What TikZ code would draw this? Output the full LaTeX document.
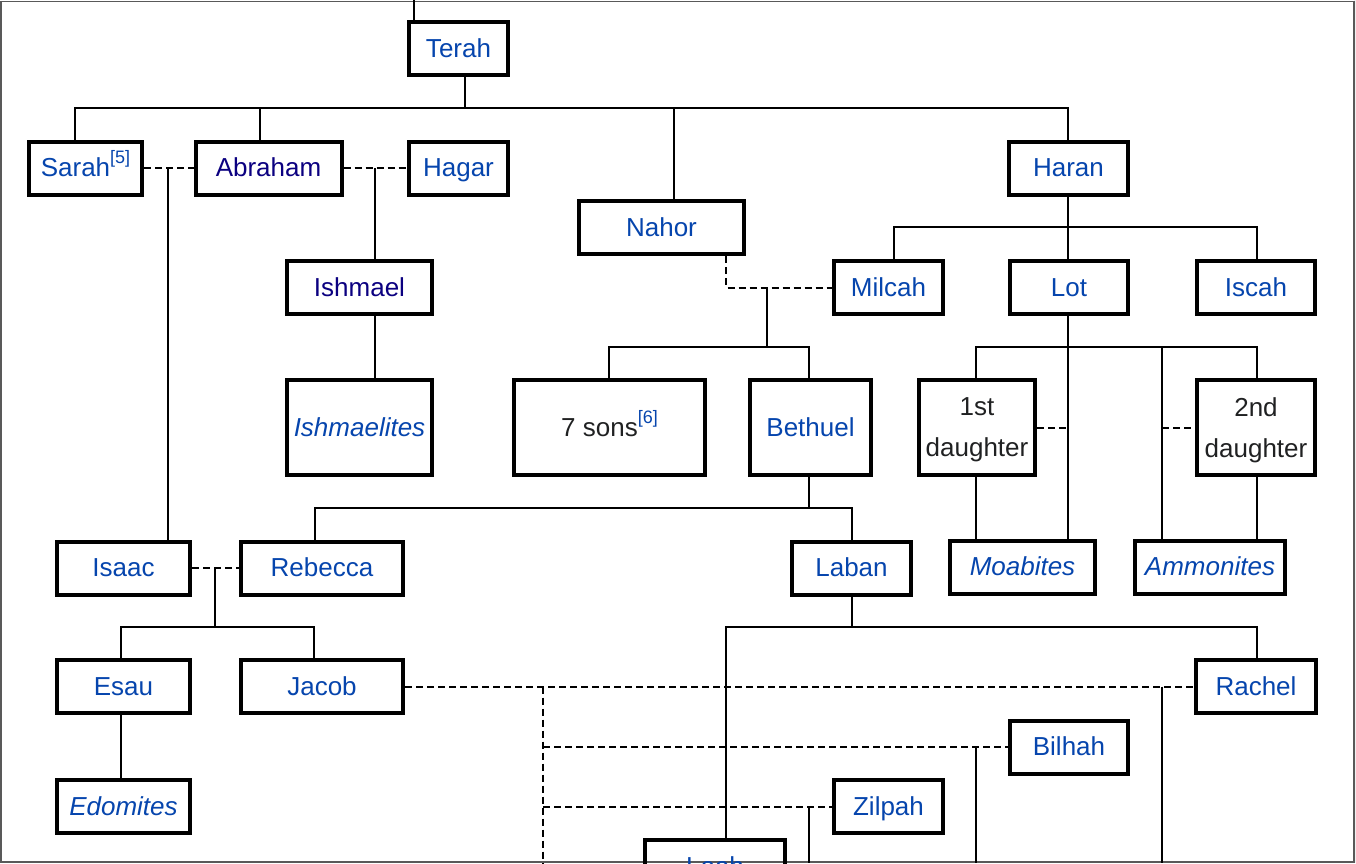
\documentclass[tikz,border=0pt]{standalone}
\usepackage{fontspec}
\setmainfont{Liberation Sans}
\usetikzlibrary{positioning}
\definecolor{wlink}{HTML}{0645AD}
\definecolor{wvisited}{HTML}{0B0080}
\definecolor{wtext}{HTML}{202122}
\newcommand{\refnote}[1]{\raisebox{13pt}{\fontsize{18}{18}\selectfont\color{wlink}[#1]}}
\tikzset{
  person/.style={draw, line width=4pt, inner sep=0pt, minimum height=53pt, text=wlink,
                 font=\fontsize{26}{41}\selectfont, align=center,
                 text height=19pt, text depth=2pt},
  tribe/.style={person, font=\fontsize{26}{41}\selectfont\itshape},
  visited/.style={text=wvisited},
  nolink/.style={text=wtext},
  tall/.style={minimum height=95pt},
  twoline/.style={text height={}, text depth=0pt},
  kin/.style={line width=2pt},
  wed/.style={line width=2pt, dash pattern=on 7pt off 4pt},
}
\begin{document}
\begin{tikzpicture}[x=1pt, y=-1pt]
\useasboundingbox (0,0) rectangle (1356,863);
\clip (0,0) rectangle (1356,863);
\fill[gray!12] (1354,0) rectangle (1356,863);
\draw[gray!70!black, line width=1.2pt] (1,1.5) rectangle (1354,862);

%Nodes
\node[person, minimum width=99pt] (terah) at (458.5,48.5) {Terah};
\node[person, minimum width=113pt] (sarah) at (85.5,168) {Sarah\refnote{5}};
\node[person, visited, minimum width=146pt] (abraham) at (268.5,168) {Abraham};
\node[person, minimum width=99pt] (hagar) at (458.5,168) {Hagar};
\node[person, minimum width=165pt] (nahor) at (661.5,227.5) {Nahor};
\node[person, minimum width=119pt] (haran) at (1068.5,168) {Haran};
\node[person, visited, minimum width=145pt] (ishmael) at (359.5,287.5) {Ishmael};
\node[person, minimum width=109pt] (milcah) at (888.5,287.5) {Milcah};
\node[person, minimum width=118pt] (lot) at (1069,287.5) {Lot};
\node[person, minimum width=118pt] (iscah) at (1256,287.5) {Iscah};
\node[tribe, tall, minimum width=145pt] (ishmaelites) at (359.5,427.5) {Ishmaelites};
\node[person, nolink, tall, minimum width=191pt] (sons) at (609.5,427.5) {7 sons\refnote{6}};
\node[person, tall, minimum width=121pt] (bethuel) at (810.5,427.5) {Bethuel};
\node[person, nolink, tall, twoline, minimum width=116pt] (daughter1) at (977,427.5) {1st\\daughter};
\node[person, nolink, tall, twoline, minimum width=118pt] (daughter2) at (1256,427.5) {2nd\\daughter};
\node[person, minimum width=133pt] (isaac) at (123.5,568) {Isaac};
\node[person, minimum width=162pt] (rebecca) at (322,568) {Rebecca};
\node[person, minimum width=119pt] (laban) at (851.5,568) {Laban};
\node[tribe, minimum width=145pt] (moabites) at (1022.5,567) {Moabites};
\node[tribe, minimum width=150pt] (ammonites) at (1210,567) {Ammonites};
\node[person, minimum width=133pt] (esau) at (123.5,686.5) {Esau};
\node[person, minimum width=162pt] (jacob) at (322,686.5) {Jacob};
\node[person, minimum width=120pt] (rachel) at (1256,686.5) {Rachel};
\node[person, minimum width=118pt] (bilhah) at (1069,747) {Bilhah};
\node[person, minimum width=109pt] (zilpah) at (888.5,806.5) {Zilpah};
\node[tribe, minimum width=133pt] (edomites) at (123.5,806.5) {Edomites};
\node[person, minimum width=140pt] (leah) at (715,866.5) {Leah};

%Junctions
\coordinate (top) at (414,0);
\coordinate (jTerah) at (465,108);
\coordinate (jSarah) at (75,108);
\coordinate (jAbraham) at (260,108);
\coordinate (jNahor) at (674,108);
\coordinate (jHaran) at (1068,108);
\coordinate (mSarah) at (168,168);
\coordinate (mHagar) at (375,168);
\coordinate (mNahor) at (726,287.5);
\coordinate (cNahor) at (767,287.5);
\coordinate (jNahorKids) at (767,347);
\coordinate (jSons) at (609,347);
\coordinate (jBethuel) at (809,347);
\coordinate (jMilcah) at (894,227);
\coordinate (jIscah) at (1257,227);
\coordinate (jLot) at (1068,347);
\coordinate (jD1) at (976,347);
\coordinate (jD2) at (1257,347);
\coordinate (jAmmon) at (1162,347);
\coordinate (jBethKids) at (809,508);
\coordinate (jRebecca) at (315,508);
\coordinate (jLaban) at (852,508);
\coordinate (mIsaac) at (215,568);
\coordinate (jIsaacKids) at (215,627);
\coordinate (jEsau) at (121,627);
\coordinate (jJacob) at (314,627);
\coordinate (jLabanKids) at (852,627);
\coordinate (jLeah) at (726,627);
\coordinate (jRachel) at (1257,627);
\coordinate (mJacob) at (543,686.5);
\coordinate (mJacobEnd) at (543,863);
\coordinate (cRachel) at (1162,686.5);
\coordinate (cBilhah) at (976,747);
\coordinate (cZilpah) at (809,806.5);

%Lines
\draw[kin] (top) -- (top |- terah.north);
\draw[kin] (jTerah |- terah.south) -- (jTerah);
\draw[kin] (jSarah |- sarah.north) -- (jSarah) -- (jHaran) -- (jHaran |- haran.north);
\draw[kin] (jAbraham) -- (jAbraham |- abraham.north);
\draw[kin] (jNahor) -- (jNahor |- nahor.north);

\draw[wed] (sarah.east) -- (abraham.west);
\draw[kin] (mSarah) -- (mSarah |- isaac.north);
\draw[wed] (abraham.east) -- (hagar.west);
\draw[kin] (mHagar) -- (mHagar |- ishmael.north);
\draw[kin] (mHagar |- ishmael.south) -- (mHagar |- ishmaelites.north);

\draw[wed] (mNahor |- nahor.south) -- (mNahor) -- (milcah.west);
\draw[kin] (cNahor) -- (jNahorKids);
\draw[kin] (jSons |- sons.north) -- (jSons) -- (jBethuel) -- (jBethuel |- bethuel.north);

\draw[kin] (jHaran |- haran.south) -- (jHaran |- lot.north);
\draw[kin] (jMilcah |- milcah.north) -- (jMilcah) -- (jIscah) -- (jIscah |- iscah.north);

\draw[kin] (jLot |- lot.south) -- (jLot |- moabites.north);
\draw[kin] (jD1 |- daughter1.north) -- (jD1) -- (jD2) -- (jD2 |- daughter2.north);
\draw[kin] (jAmmon) -- (jAmmon |- ammonites.north);
\draw[wed] (daughter1.east) -- (daughter1.east -| jLot);
\draw[wed] (daughter2.west -| jAmmon) -- (daughter2.west);
\draw[kin] (jD1 |- daughter1.south) -- (jD1 |- moabites.north);
\draw[kin] (jD2 |- daughter2.south) -- (jD2 |- ammonites.north);

\draw[kin] (jBethKids |- bethuel.south) -- (jBethKids);
\draw[kin] (jRebecca |- rebecca.north) -- (jRebecca) -- (jLaban) -- (jLaban |- laban.north);

\draw[wed] (isaac.east) -- (rebecca.west);
\draw[kin] (mIsaac) -- (jIsaacKids);
\draw[kin] (jEsau |- esau.north) -- (jEsau) -- (jJacob) -- (jJacob |- jacob.north);
\draw[kin] (jEsau |- esau.south) -- (jEsau |- edomites.north);

\draw[kin] (jLabanKids |- laban.south) -- (jLabanKids);
\draw[kin] (jLeah |- leah.north) -- (jLeah) -- (jRachel) -- (jRachel |- rachel.north);

\draw[wed] (jacob.east) -- (rachel.west);
\draw[wed] (mJacob) -- (mJacobEnd);
\draw[wed] (mJacob |- bilhah.west) -- (bilhah.west);
\draw[wed] (mJacob |- zilpah.west) -- (zilpah.west);
\draw[kin] (cRachel) -- (cRachel |- mJacobEnd);
\draw[kin] (cBilhah) -- (cBilhah |- mJacobEnd);
\draw[kin] (cZilpah) -- (cZilpah |- mJacobEnd);
\end{tikzpicture}
\end{document}
